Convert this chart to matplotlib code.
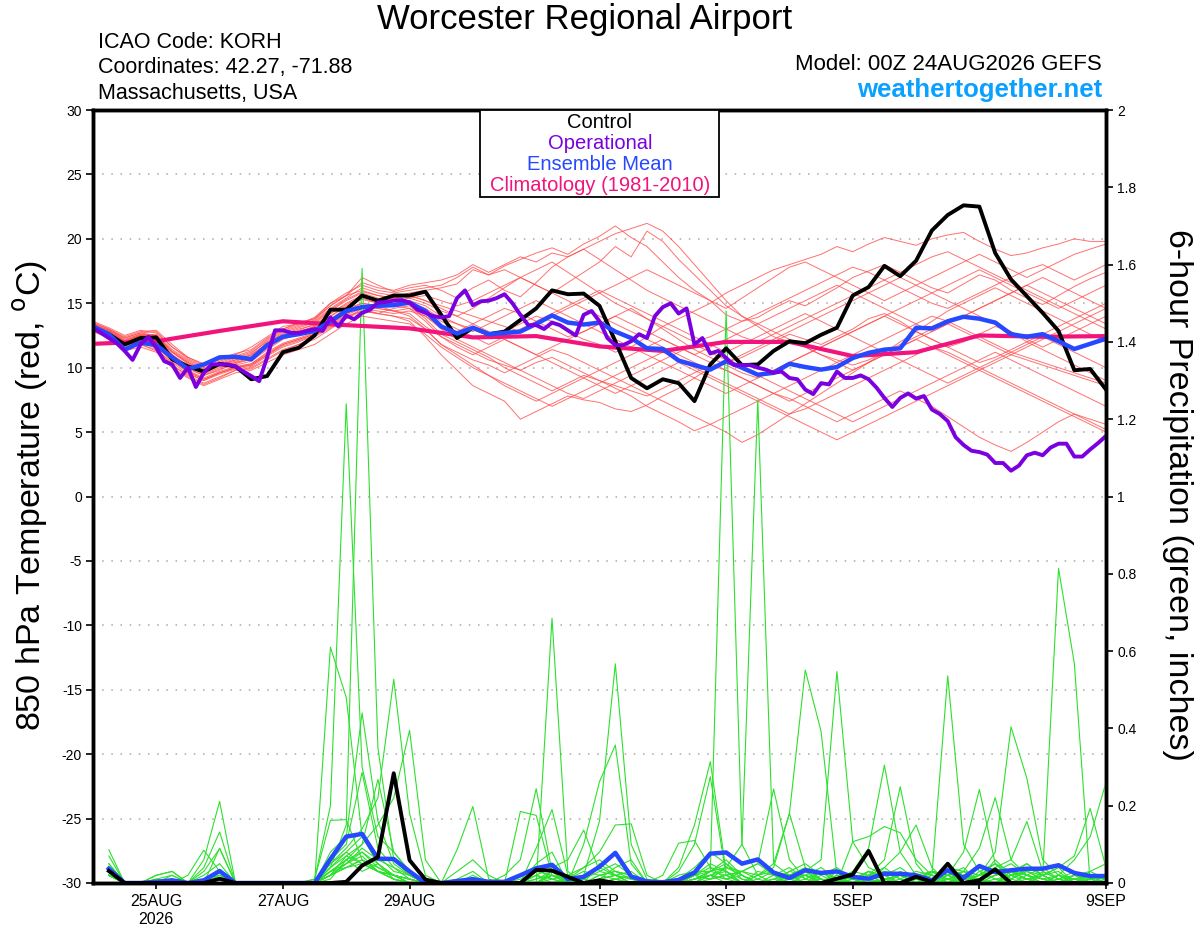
import numpy as np
import matplotlib
matplotlib.use('Agg')
import matplotlib.pyplot as plt
from matplotlib.patches import Rectangle

plt.rcParams['font.family'] = ['Liberation Sans', 'DejaVu Sans']

# ----------------------------------------------------------------- data -----
base = np.datetime64('2026-08-24T00:00')

# 850 hPa temperature, 6-hourly from 00Z 24AUG
control_temp = [13.0, 12.6, 11.8, 12.3, 12.35, 10.65, 10.1, 9.7, 10.3, 10.1, 9.1, 9.35, 11.2, 11.55, 12.5, 14.5,
                14.5, 15.6, 15.2, 15.6, 15.6, 15.9, 14.1, 12.3, 13.1, 12.6, 12.8, 13.7, 14.6, 16.0, 15.7, 15.75,
                14.8, 12.05, 9.2, 8.4, 9.1, 8.8, 7.4, 10.25, 11.5, 10.2, 10.25, 11.3, 12.05, 11.9, 12.55, 13.1,
                15.6, 16.25, 17.9, 17.1, 18.3, 20.65, 21.85, 22.6, 22.5, 18.9, 16.85, 15.55, 14.25, 12.85, 9.8, 9.9,
                8.3]
mean_temp = [13.2, 12.6, 11.4, 11.95, 11.75, 10.8, 9.9, 10.25, 10.8, 10.85, 10.65, 11.75, 12.4, 12.6, 12.85, 13.6,
             14.4, 14.7, 14.8, 14.85, 15.05, 14.4, 13.2, 12.65, 13.1, 12.6, 12.7, 12.8, 13.4, 14.05, 13.5, 13.35,
             13.5, 12.8, 12.3, 11.5, 11.45, 10.55, 10.2, 9.85, 10.5, 10.0, 9.45, 9.6, 10.3, 10.05, 9.85, 10.05,
             10.75, 11.15, 11.4, 11.5, 13.1, 13.05, 13.6, 13.95, 13.8, 13.5, 12.6, 12.4, 12.6, 12.05, 11.45, 11.85,
             12.25]
# operational run, 3-hourly
oper_temp = [13.1, 12.7, 12.3, 11.9, 11.3, 10.6, 11.8, 12.4, 11.55, 10.5, 10.25, 9.2, 10.0, 8.5, 9.6, 10.25,
             10.25, 10.25, 10.1, 9.7, 9.35, 8.95, 10.8, 12.9, 12.9, 12.7, 12.7, 12.85, 13.0, 12.85, 13.9, 13.2,
             14.05, 13.75, 14.25, 14.5, 15.05, 15.1, 15.2, 15.25, 15.05, 14.5, 14.25, 14.0, 13.9, 14.0, 15.4, 16.0,
             14.85, 15.15, 15.2, 15.4, 15.7, 15.0, 14.1, 13.3, 13.3, 13.0, 13.5, 13.3, 12.9, 12.5, 14.1, 14.4,
             13.6, 12.3, 11.75, 11.75, 12.05, 12.6, 12.3, 14.0, 14.7, 15.0, 14.2, 14.6, 11.8, 12.3, 11.1, 11.3,
             10.75, 10.2, 10.2, 10.2, 10.0, 9.85, 9.6, 9.7, 9.2, 9.1, 8.3, 7.95, 8.8, 8.7, 9.7, 9.2,
             9.2, 9.4, 9.1, 8.45, 7.65, 6.95, 7.65, 8.0, 7.6, 7.8, 6.75, 6.4, 5.85, 4.6, 4.0, 3.55,
             3.45, 3.25, 2.6, 2.6, 2.0, 2.4, 3.2, 3.4, 3.2, 3.8, 4.1, 4.1, 3.1, 3.1, 3.65, 4.15,
             4.7]
# climatology, daily
clim_temp = [11.85, 12.05, 12.85, 13.6, 13.3, 13.05, 12.35, 12.45, 11.65, 11.3, 12.0, 12.0, 10.9, 11.2, 12.5,
             12.4, 12.45]

members_temp = [
    [13.4, 12.9, 12.2, 12.6, 12.4, 11.0, 10.2, 9.6, 10.1, 10.4, 10.8, 11.9, 12.6, 13.0, 13.3, 14.2, 15.0, 15.6,
     15.3, 15.5, 15.8, 16.0, 16.2, 16.5, 17.6, 17.2, 17.9, 18.4, 18.9, 19.3, 18.8, 19.6, 20.2, 21.0, 20.1, 19.4,
     18.2, 17.0, 16.0, 15.2, 14.1, 13.6, 13.9, 14.6, 15.2, 14.8, 15.5, 16.2, 17.0, 17.5, 18.0, 17.4, 16.8, 16.2,
     15.8, 16.5, 17.2, 16.8, 16.0, 15.4, 14.9, 15.6, 16.3, 16.9, 17.4],
    [13.0, 12.5, 11.6, 12.0, 11.5, 10.2, 9.3, 8.7, 9.2, 9.8, 9.9, 10.6, 11.3, 11.8, 12.4, 13.1, 13.8, 14.6,
     14.2, 14.0, 13.6, 12.4, 11.0, 9.8, 8.6, 8.0, 7.4, 6.0, 6.6, 7.2, 7.8, 7.5, 7.3, 6.8, 6.6, 7.1,
     7.8, 8.4, 9.2, 10.0, 10.4, 10.8, 11.4, 12.0, 12.6, 12.2, 11.8, 12.4, 13.0, 13.8, 14.2, 13.6, 12.8, 12.2,
     11.6, 12.0, 12.6, 13.2, 12.8, 12.0, 11.4, 10.8, 10.2, 9.6, 9.0],
    [13.5, 13.0, 12.4, 12.8, 12.9, 11.8, 10.8, 10.2, 10.6, 11.0, 11.6, 12.4, 13.2, 13.4, 13.9, 15.0, 15.6, 17.0,
     16.4, 15.9, 16.2, 16.4, 16.0, 15.4, 16.2, 16.8, 16.0, 15.5, 16.6, 17.8, 18.6, 19.2, 19.8, 20.4, 20.8, 21.2,
     20.6, 19.4, 18.0, 16.6, 15.2, 14.0, 13.2, 12.4, 12.0, 11.6, 11.0, 10.6, 10.2, 10.6, 11.2, 11.8, 12.4, 13.0,
     13.4, 12.8, 12.2, 11.6, 11.0, 10.6, 10.2, 9.8, 9.4, 9.0, 8.6],
    [13.2, 12.7, 11.9, 12.4, 12.2, 10.8, 9.9, 9.4, 9.9, 10.2, 10.5, 11.4, 12.2, 12.6, 13.0, 13.8, 14.6, 15.0,
     14.8, 15.2, 15.0, 14.6, 13.8, 13.4, 13.0, 12.6, 12.8, 13.4, 14.0, 13.6, 12.8, 12.2, 11.8, 11.2, 11.6, 12.4,
     13.2, 13.8, 14.4, 15.0, 15.8, 16.4, 17.0, 17.6, 18.0, 18.4, 18.8, 19.4, 19.0, 19.6, 20.1, 19.8, 19.5, 20.0,
     20.3, 20.5, 19.8, 19.2, 18.7, 18.9, 19.3, 19.6, 20.0, 19.8, 19.8],
    [12.9, 12.4, 11.4, 11.8, 11.4, 10.4, 9.5, 9.0, 9.6, 10.0, 10.2, 11.0, 11.8, 12.2, 12.6, 13.4, 14.2, 14.8,
     14.6, 14.4, 14.2, 13.2, 12.4, 11.8, 11.2, 10.6, 10.2, 9.8, 10.4, 10.8, 10.2, 9.6, 9.0, 8.6, 8.2, 7.8,
     8.4, 9.0, 9.6, 10.2, 9.8, 9.2, 8.6, 8.0, 7.6, 7.0, 6.4, 5.8, 6.4, 7.0, 7.6, 8.2, 7.6, 7.0,
     6.2, 5.4, 4.6, 4.0, 3.5, 4.2, 5.0, 5.8, 6.4, 6.0, 5.6],
    [13.3, 12.8, 12.0, 12.5, 12.6, 11.4, 10.6, 10.0, 10.4, 10.8, 11.2, 12.0, 12.8, 13.2, 13.6, 14.6, 15.4, 16.2,
     15.8, 15.6, 15.4, 15.0, 14.4, 14.0, 14.6, 15.4, 16.2, 17.0, 17.6, 18.2, 17.4, 16.6, 15.8, 15.0, 14.4, 13.8,
     13.2, 12.6, 12.0, 12.4, 13.0, 13.6, 14.2, 14.8, 15.4, 16.0, 16.6, 17.2, 17.8, 17.4, 16.8, 16.2, 15.6, 15.0,
     14.6, 15.2, 15.8, 16.4, 17.0, 17.6, 18.0, 17.4, 16.8, 17.4, 18.0],
    [13.1, 12.6, 11.8, 12.2, 11.9, 10.6, 9.6, 9.0, 9.5, 9.9, 10.1, 10.9, 11.6, 12.0, 12.5, 13.2, 14.0, 14.4,
     14.2, 14.6, 14.8, 13.8, 12.6, 12.0, 11.4, 10.8, 10.0, 9.4, 8.8, 8.2, 8.8, 9.4, 9.0, 8.4, 7.8, 7.0,
     6.4, 5.8, 5.1, 5.6, 6.2, 6.8, 7.4, 8.0, 8.6, 9.2, 9.8, 10.4, 11.0, 11.6, 12.2, 12.8, 13.4, 14.0,
     13.6, 13.0, 12.4, 11.8, 11.2, 10.8, 10.4, 10.0, 9.6, 9.2, 8.8],
    [13.0, 12.6, 11.9, 12.3, 12.0, 11.0, 10.0, 9.4, 9.8, 10.4, 10.6, 11.6, 12.4, 12.8, 13.2, 14.0, 14.8, 15.4,
     15.0, 14.8, 14.6, 14.0, 13.2, 12.8, 13.4, 14.0, 14.6, 14.2, 13.6, 13.0, 12.4, 12.8, 13.4, 14.0, 14.6, 13.8,
     13.0, 12.2, 11.4, 10.8, 10.2, 9.6, 9.2, 9.8, 10.4, 11.0, 11.6, 12.2, 12.8, 13.4, 14.0, 13.4, 12.8, 12.2,
     11.6, 11.0, 10.4, 10.8, 11.4, 12.0, 12.6, 13.2, 13.8, 14.4, 15.0],
    [13.6, 13.1, 12.5, 12.9, 12.7, 11.6, 10.8, 10.3, 10.7, 11.1, 11.4, 12.3, 13.0, 13.5, 13.8, 14.8, 15.6, 16.6,
     16.2, 16.0, 16.4, 16.6, 16.8, 17.2, 18.0, 17.4, 18.0, 18.6, 18.2, 18.9, 18.6, 19.2, 18.4, 17.6, 16.8, 16.0,
     15.4, 14.8, 14.2, 13.6, 13.0, 12.4, 12.0, 12.6, 13.2, 13.8, 14.4, 15.0, 15.6, 16.2, 16.8, 17.4, 18.0, 18.6,
     19.0, 18.4, 17.8, 17.2, 16.6, 16.0, 15.4, 14.8, 14.2, 13.6, 13.0],
    [12.8, 12.3, 11.3, 11.6, 11.2, 10.0, 9.2, 8.6, 9.1, 9.6, 9.8, 10.4, 11.0, 11.4, 11.8, 12.6, 13.4, 14.0,
     13.8, 13.6, 13.4, 12.6, 11.6, 10.8, 10.0, 9.4, 8.8, 8.2, 7.6, 7.0, 7.6, 8.2, 8.8, 9.4, 10.0, 10.6,
     11.2, 10.6, 10.0, 9.4, 8.8, 8.2, 7.6, 7.0, 6.4, 6.8, 7.4, 8.0, 8.6, 9.2, 9.8, 10.4, 11.0, 11.6,
     11.2, 10.6, 10.0, 9.4, 8.8, 8.2, 7.6, 7.0, 6.4, 5.8, 5.2],
    [13.2, 12.8, 12.1, 12.5, 12.3, 11.2, 10.4, 9.8, 10.2, 10.6, 11.0, 11.8, 12.5, 12.9, 13.4, 14.4, 15.2, 15.8,
     15.4, 15.2, 15.4, 15.6, 15.2, 14.8, 15.2, 15.8, 16.4, 17.0, 16.4, 15.8, 16.6, 17.4, 18.2, 19.4, 18.6, 20.6,
     19.8, 18.4, 17.2, 16.0, 14.8, 14.0, 13.4, 12.8, 12.2, 11.6, 11.0, 10.4, 9.8, 10.4, 11.0, 11.6, 12.2, 12.8,
     13.4, 14.0, 14.6, 15.2, 15.8, 16.4, 17.0, 16.4, 15.8, 15.2, 14.6],
    [13.0, 12.5, 11.7, 12.1, 11.8, 10.7, 9.8, 9.2, 9.7, 10.1, 10.3, 11.2, 11.9, 12.3, 12.7, 13.6, 14.4, 15.0,
     14.8, 14.4, 14.0, 13.0, 11.8, 11.2, 10.6, 10.2, 9.6, 10.2, 10.8, 11.4, 11.0, 10.4, 9.8, 9.2, 8.6, 8.0,
     7.4, 6.8, 6.2, 5.6, 5.0, 4.2, 4.8, 5.6, 6.4, 7.2, 8.0, 8.8, 9.6, 10.4, 11.2, 12.0, 12.8, 13.6,
     14.4, 15.0, 15.6, 16.2, 15.6, 15.0, 14.4, 13.8, 13.2, 12.6, 12.0],
    [13.3, 12.9, 12.3, 12.7, 12.5, 11.3, 10.5, 9.9, 10.3, 10.7, 11.1, 12.1, 12.9, 13.3, 13.7, 14.8, 15.6, 16.0,
     15.6, 15.4, 15.2, 14.4, 13.6, 13.0, 12.4, 11.8, 12.4, 13.0, 13.6, 14.2, 14.8, 15.4, 16.0, 15.4, 14.8, 14.2,
     13.6, 13.0, 12.4, 11.8, 11.2, 11.8, 12.4, 13.0, 13.6, 14.2, 13.6, 13.0, 12.4, 11.8, 11.2, 10.6, 10.0, 9.4,
     8.8, 9.4, 10.0, 10.6, 11.2, 11.8, 12.4, 11.8, 11.2, 10.6, 10.0],
    [13.4, 12.9, 12.1, 12.6, 12.5, 11.2, 10.3, 9.7, 10.2, 10.5, 10.9, 11.7, 12.5, 12.8, 13.2, 14.2, 14.9, 15.5,
     15.2, 15.4, 15.6, 15.2, 14.8, 14.4, 14.0, 13.6, 13.2, 12.8, 13.4, 14.0, 14.6, 15.2, 15.8, 16.4, 17.0, 17.6,
     17.0, 16.4, 15.8, 15.2, 14.6, 15.4, 16.2, 17.0, 17.8, 18.2, 17.6, 17.0, 16.4, 15.8, 15.2, 15.8, 16.4, 17.0,
     17.6, 18.2, 18.8, 18.2, 17.6, 17.0, 17.6, 18.2, 18.8, 19.2, 19.6],
    [12.9, 12.4, 11.5, 11.9, 11.6, 10.5, 9.7, 9.1, 9.6, 10.0, 10.2, 11.0, 11.7, 12.1, 12.5, 13.3, 14.1, 14.6,
     14.4, 14.2, 14.4, 14.0, 13.0, 12.2, 11.6, 11.0, 10.4, 9.8, 9.2, 8.6, 8.0, 7.6, 8.2, 8.8, 9.4, 10.0,
     10.6, 11.2, 11.8, 11.2, 10.6, 10.0, 9.4, 8.8, 8.2, 7.6, 7.0, 6.4, 5.8, 6.4, 7.0, 7.6, 8.2, 8.8,
     9.4, 10.0, 10.6, 11.2, 10.6, 10.0, 9.4, 8.8, 8.2, 7.6, 7.0],
    [13.5, 13.0, 12.3, 12.7, 12.8, 11.6, 10.7, 10.1, 10.5, 10.9, 11.3, 12.2, 13.0, 13.4, 13.8, 15.0, 15.8, 16.4,
     16.0, 15.8, 16.0, 16.2, 16.4, 17.0, 17.8, 17.2, 17.6, 17.0, 16.4, 15.8, 15.2, 14.6, 14.0, 13.4, 12.8, 12.2,
     11.6, 11.0, 10.4, 9.8, 10.4, 11.0, 11.6, 12.2, 12.8, 13.4, 14.0, 14.6, 15.2, 15.8, 16.4, 17.0, 16.4, 15.8,
     15.2, 14.6, 14.0, 13.4, 12.8, 12.2, 11.6, 12.2, 12.8, 13.4, 14.0],
    [13.1, 12.6, 11.8, 12.2, 11.7, 10.6, 9.7, 9.1, 9.6, 10.0, 10.3, 11.1, 11.8, 12.2, 12.6, 13.5, 14.2, 14.8,
     14.6, 14.4, 14.6, 13.6, 12.4, 11.6, 11.0, 11.6, 12.2, 11.6, 11.0, 10.4, 9.8, 9.2, 8.6, 8.0, 8.6, 9.2,
     9.8, 10.4, 9.8, 9.2, 8.6, 8.0, 7.4, 6.8, 6.2, 5.6, 5.0, 4.4, 5.0, 5.6, 6.2, 6.8, 7.4, 8.0,
     8.6, 9.2, 9.8, 10.4, 11.0, 11.6, 12.2, 12.8, 13.4, 14.0, 14.6],
    [13.2, 12.7, 12.0, 12.4, 12.2, 11.0, 10.1, 9.5, 10.0, 10.3, 10.7, 11.5, 12.3, 12.7, 13.1, 14.0, 14.7, 15.3,
     15.0, 15.0, 15.2, 14.8, 14.0, 13.4, 12.8, 13.4, 14.0, 14.6, 15.2, 14.6, 14.0, 13.4, 12.8, 12.2, 11.6, 11.0,
     10.4, 9.8, 9.2, 8.6, 8.0, 8.6, 9.2, 9.8, 10.4, 11.0, 11.6, 12.2, 12.8, 13.4, 14.0, 14.6, 15.2, 15.8,
     16.4, 17.0, 17.6, 17.0, 16.4, 15.8, 15.2, 14.6, 15.2, 15.8, 16.4],
    [12.9, 12.3, 11.4, 11.8, 11.3, 10.2, 9.4, 8.8, 9.3, 9.8, 10.0, 10.7, 11.4, 11.8, 12.2, 13.0, 13.8, 14.4,
     14.2, 14.0, 13.8, 13.0, 11.8, 11.0, 10.2, 9.4, 8.6, 8.0, 7.4, 8.0, 8.6, 9.2, 9.8, 10.4, 11.0, 11.6,
     12.2, 11.6, 11.0, 10.4, 9.8, 9.2, 8.6, 8.0, 7.4, 8.0, 8.6, 9.2, 9.8, 10.4, 11.0, 11.6, 12.2, 11.6,
     11.0, 10.4, 9.8, 9.2, 8.6, 8.0, 7.4, 6.8, 6.2, 5.6, 5.0],
    [13.3, 12.8, 12.1, 12.5, 12.4, 11.2, 10.4, 9.8, 10.2, 10.6, 11.0, 11.9, 12.7, 13.1, 13.5, 14.5, 15.3, 15.9,
     15.6, 15.4, 15.6, 15.2, 14.6, 14.0, 13.4, 12.8, 12.2, 11.6, 11.0, 11.6, 12.2, 12.8, 13.4, 14.0, 13.4, 12.8,
     12.2, 11.6, 11.0, 11.6, 12.2, 12.8, 13.4, 14.0, 14.6, 15.2, 15.8, 16.4, 15.8, 15.2, 14.6, 14.0, 13.4, 12.8,
     13.4, 14.0, 14.6, 15.2, 15.8, 16.4, 15.8, 15.2, 14.6, 14.0, 13.4],
]

# 6-hour precipitation (inches), periods ending 06Z 24AUG ... 00Z 9SEP
control_precip = [0.031, 0, 0, 0, 0, 0, 0, 0.011, 0, 0, 0, 0, 0, 0, 0, 0.003,
                  0.045, 0.067, 0.284, 0.059, 0.009, 0, 0, 0, 0, 0, 0, 0.034, 0.032, 0.016, 0, 0.007,
                  0, 0, 0, 0, 0, 0, 0, 0, 0, 0, 0, 0, 0, 0, 0.011, 0.022,
                  0.083, 0, 0, 0.016, 0.003, 0.05, 0, 0.007, 0.035, 0, 0, 0, 0, 0, 0, 0]
mean_precip = [0.037, 0, 0, 0.003, 0.007, 0, 0.007, 0.031, 0, 0, 0, 0, 0, 0, 0.062, 0.12,
               0.127, 0.063, 0.062, 0.03, 0, 0, 0.005, 0.01, 0.003, 0.003, 0.02, 0.038, 0.047, 0.01, 0.016, 0.042,
               0.078, 0.017, 0.004, 0.002, 0.008, 0.027, 0.076, 0.079, 0.05, 0.061, 0.027, 0.013, 0.033, 0.026,
               0.03, 0.016,
               0.011, 0.024, 0.024, 0.02, 0.007, 0.033, 0.013, 0.044, 0.028, 0.033, 0.037, 0.037, 0.046, 0.026,
               0.018, 0.018]

members_precip = [
    [0.086, 0, 0, 0.01, 0.02, 0, 0, 0.03, 0, 0, 0, 0, 0, 0, 0.61, 0.48,
     0.12, 0.05, 0.02, 0, 0, 0, 0, 0, 0, 0, 0.02, 0.04, 0.01, 0, 0, 0.02,
     0.03, 0.01, 0, 0, 0.02, 0.03, 0.03, 1.48, 0.10, 0.02, 0, 0.01, 0.02, 0, 0.01, 0.03,
     0.02, 0, 0, 0.01, 0, 0.02, 0.03, 0, 0, 0.01, 0.04, 0.02, 0, 0, 0.01, 0],
    [0.07, 0, 0, 0, 0.01, 0, 0.02, 0.05, 0, 0, 0, 0, 0, 0, 0.04, 0.15,
     1.59, 0.35, 0.06, 0.02, 0, 0, 0, 0, 0, 0, 0, 0.03, 0.05, 0, 0.02, 0.04,
     0.02, 0, 0, 0, 0, 0.02, 0.05, 0.03, 0, 0, 0.02, 0.04, 0.01, 0, 0, 0.03,
     0.09, 0.305, 0.08, 0.02, 0, 0.03, 0, 0.01, 0.06, 0.02, 0, 0.03, 0.01, 0, 0.02, 0.01],
    [0.05, 0, 0, 0.02, 0.03, 0, 0, 0.09, 0, 0, 0, 0, 0, 0.01, 0.20, 1.24,
     0.30, 0.12, 0.08, 0.03, 0, 0, 0.01, 0.03, 0, 0, 0, 0, 0.02, 0.01, 0.04, 0.06,
     0.03, 0.02, 0, 0, 0.01, 0.04, 0.08, 0.05, 0.01, 0, 0, 0.03, 0.05, 0.02, 0, 0,
     0.02, 0.06, 0.249, 0.05, 0, 0.02, 0.04, 0, 0, 0.03, 0.02, 0.01, 0, 0, 0.03, 0.05],
    [0.04, 0, 0, 0, 0.01, 0, 0, 0.02, 0, 0, 0, 0, 0, 0, 0.05, 0.09,
     0.14, 0.22, 0.527, 0.18, 0.02, 0, 0, 0, 0, 0, 0, 0.01, 0.03, 0, 0.01, 0.03,
     0.05, 0.02, 0, 0, 0, 0.01, 0.03, 0.06, 0.02, 0, 0, 0.02, 0.03, 0, 0.02, 0.01,
     0, 0.04, 0.08, 0.15, 0.04, 0, 0.01, 0.02, 0.05, 0.03, 0.02, 0, 0.01, 0.03, 0, 0.02],
    [0.03, 0, 0, 0, 0, 0, 0, 0, 0, 0, 0, 0, 0, 0, 0.03, 0.06,
     0.10, 0.15, 0.22, 0.395, 0.06, 0, 0, 0, 0, 0, 0, 0.02, 0, 0.01, 0.03, 0.02,
     0.01, 0, 0, 0, 0, 0.02, 0.04, 0.03, 0, 0, 0.01, 0.02, 0.04, 0.01, 0, 0.02,
     0.01, 0, 0.03, 0.01, 0.02, 0.536, 0.1, 0.03, 0.01, 0, 0.02, 0.04, 0.01, 0, 0, 0.02],
    [0.02, 0, 0, 0, 0, 0, 0, 0.03, 0, 0, 0, 0, 0, 0, 0.08, 0.12,
     0.44, 0.16, 0.05, 0.02, 0, 0, 0, 0.01, 0, 0, 0, 0, 0.02, 0, 0, 0.05,
     0.02, 0.03, 0, 0, 0, 0.02, 0.01, 0.04, 0.10, 1.25, 0.05, 0.02, 0, 0.03, 0.01, 0,
     0.03, 0.02, 0, 0.01, 0.03, 0, 0.02, 0.01, 0, 0.02, 0.05, 0.02, 0.04, 0, 0.01, 0],
    [0.03, 0, 0, 0, 0, 0, 0.01, 0.02, 0, 0, 0, 0, 0, 0, 0.06, 0.1,
     0.286, 0.09, 0.04, 0.01, 0, 0, 0, 0, 0, 0, 0, 0.01, 0.02, 0, 0, 0.01,
     0.04, 0.06, 0, 0, 0, 0, 0.02, 0.01, 0.03, 0.05, 0.02, 0, 0.01, 0.03, 0, 0.01,
     0.02, 0.04, 0.01, 0, 0.03, 0.02, 0.08, 0.242, 0.05, 0.01, 0, 0.02, 0.03, 0, 0.01, 0.02],
    [0.02, 0, 0, 0, 0, 0, 0, 0, 0, 0, 0, 0, 0, 0, 0.04, 0.07,
     0.1, 0.268, 0.08, 0.03, 0, 0, 0, 0, 0, 0, 0, 0, 0.01, 0.02, 0, 0,
     0.01, 0, 0, 0, 0, 0.01, 0.02, 0, 0, 0.03, 0.02, 0.01, 0, 0.02, 0.04, 0.01,
     0.03, 0.01, 0, 0.02, 0.01, 0.04, 0.03, 0.09, 0.221, 0.06, 0.02, 0.01, 0, 0.02, 0.03, 0.01],
    [0.03, 0, 0, 0, 0, 0, 0, 0, 0, 0, 0, 0, 0, 0.01, 0.162, 0.164,
     0.06, 0.04, 0.02, 0.01, 0, 0, 0, 0, 0, 0, 0, 0, 0, 0, 0.01, 0,
     0, 0, 0, 0, 0, 0, 0, 0, 0, 0.02, 0.03, 0.01, 0, 0, 0.02, 0,
     0.01, 0.02, 0.04, 0.01, 0, 0, 0.03, 0.02, 0.08, 0.404, 0.271, 0.06, 0.02, 0, 0.01, 0],
    [0.04, 0, 0, 0.02, 0.03, 0, 0.06, 0.211, 0, 0, 0, 0, 0, 0, 0.02, 0.05,
     0.07, 0.03, 0.01, 0, 0, 0, 0, 0, 0, 0, 0, 0, 0, 0, 0, 0,
     0, 0, 0, 0.02, 0.103, 0.11, 0.04, 0.01, 0, 0, 0, 0, 0, 0.01, 0, 0,
     0, 0.01, 0.02, 0, 0, 0.01, 0.02, 0, 0, 0.03, 0.05, 0.02, 0.814, 0.568, 0, 0.02],
    [0.02, 0, 0, 0, 0.02, 0, 0.04, 0.132, 0, 0, 0, 0, 0, 0, 0.03, 0.06,
     0.08, 0.05, 0.02, 0, 0, 0, 0.03, 0.06, 0.02, 0, 0.01, 0.03, 0.02, 0, 0.1, 0.262,
     0.357, 0.05, 0, 0, 0, 0.01, 0.03, 0.02, 0, 0.01, 0.03, 0.02, 0, 0.01, 0, 0.02,
     0.01, 0.03, 0.02, 0, 0.01, 0, 0.02, 0.04, 0.03, 0, 0.01, 0.02, 0.04, 0.07, 0.193, 0.04],
    [0.05, 0, 0, 0.01, 0, 0, 0.03, 0.089, 0, 0, 0, 0, 0, 0, 0.02, 0.04,
     0.06, 0.03, 0.01, 0, 0, 0, 0, 0.02, 0, 0, 0, 0.05, 0.08, 0, 0.02, 0.16,
     0.567, 0.1, 0.01, 0, 0, 0, 0.02, 0.01, 0.02, 0, 0.01, 0, 0.02, 0.04, 0.01, 0,
     0.02, 0, 0.01, 0.03, 0.02, 0, 0.01, 0, 0.02, 0.03, 0.01, 0, 0.02, 0.01, 0, 0.01],
    [0.03, 0, 0, 0, 0, 0.02, 0.085, 0.03, 0, 0, 0, 0, 0, 0, 0.05, 0.08,
     0.05, 0.03, 0.02, 0.01, 0, 0, 0, 0, 0, 0, 0, 0, 0.03, 0.02, 0.04, 0.08,
     0.15, 0.153, 0.02, 0, 0, 0, 0.03, 0.05, 0.02, 0, 0, 0.01, 0.02, 0, 0.03, 0.02,
     0, 0.01, 0.02, 0, 0.01, 0.02, 0, 0.03, 0.05, 0.02, 0.01, 0, 0.02, 0.06, 0.12, 0.26],
    [0.02, 0, 0, 0, 0, 0, 0, 0, 0, 0, 0, 0, 0, 0, 0.03, 0.05,
     0.09, 0.06, 0.04, 0.02, 0, 0, 0.086, 0.198, 0.01, 0, 0, 0.02, 0.01, 0, 0, 0.01,
     0.02, 0, 0, 0, 0.04, 0.15, 0.314, 0.03, 0.01, 0, 0, 0.02, 0.03, 0.01, 0, 0,
     0.02, 0.03, 0.01, 0, 0.02, 0.01, 0, 0.02, 0.03, 0.05, 0.02, 0, 0.01, 0.02, 0, 0.01],
    [0.03, 0, 0, 0, 0, 0, 0, 0, 0, 0, 0, 0, 0, 0, 0.02, 0.07,
     0.05, 0.03, 0.02, 0, 0, 0, 0, 0, 0, 0, 0.185, 0.175, 0.02, 0, 0, 0,
     0.01, 0.02, 0, 0, 0.03, 0.1, 0.275, 0.02, 0, 0, 0, 0.01, 0.02, 0, 0.01, 0.02,
     0.01, 0.02, 0, 0.01, 0.03, 0.01, 0, 0.02, 0.04, 0.01, 0.03, 0.02, 0, 0.01, 0.02, 0.01],
    [0.02, 0, 0, 0, 0, 0, 0, 0, 0, 0, 0, 0, 0, 0, 0.01, 0.06,
     0.03, 0.05, 0.01, 0, 0, 0, 0, 0, 0, 0.02, 0.06, 0.244, 0.03, 0, 0, 0.01,
     0.02, 0.01, 0, 0, 0, 0.02, 0.01, 0.02, 0.03, 0.05, 0.243, 0.06, 0.01, 0.03, 0, 0.01,
     0.03, 0.01, 0.02, 0, 0.01, 0.03, 0.02, 0.01, 0, 0.02, 0.03, 0.01, 0.02, 0, 0.01, 0],
    [0.02, 0, 0, 0, 0, 0, 0, 0, 0, 0, 0, 0, 0, 0, 0.02, 0.05,
     0.08, 0.04, 0.02, 0.01, 0, 0, 0, 0, 0, 0, 0, 0, 0.685, 0.03, 0, 0.01,
     0.02, 0.01, 0, 0, 0, 0.01, 0.02, 0.04, 0.03, 0.02, 0.05, 0.18, 0.04, 0.01, 0, 0.02,
     0.01, 0, 0.02, 0.01, 0.03, 0.02, 0, 0.01, 0.02, 0.03, 0.01, 0.02, 0, 0.01, 0.02, 0],
    [0.03, 0, 0, 0, 0, 0, 0, 0, 0, 0, 0, 0, 0, 0, 0.04, 0.08,
     0.12, 0.07, 0.03, 0.02, 0, 0, 0, 0, 0, 0, 0, 0.09, 0.19, 0.02, 0, 0,
     0.01, 0, 0, 0, 0, 0.01, 0.02, 0.03, 0, 0.02, 0.04, 0.18, 0.551, 0.392, 0.02, 0.01,
     0.02, 0.01, 0, 0.02, 0.03, 0.01, 0.02, 0, 0.01, 0.02, 0.03, 0.01, 0, 0.02, 0.01, 0.02],
    [0.02, 0, 0, 0, 0, 0, 0, 0, 0, 0, 0, 0, 0, 0, 0.03, 0.04,
     0.06, 0.03, 0.01, 0, 0, 0, 0, 0, 0, 0, 0, 0.02, 0.04, 0.06, 0.137, 0.03,
     0.02, 0, 0, 0, 0, 0, 0.01, 0.02, 0.03, 0.01, 0, 0.02, 0.03, 0.06, 0.547, 0.107,
     0.04, 0.02, 0, 0.01, 0.03, 0.02, 0.01, 0, 0.02, 0.03, 0.01, 0, 0.02, 0.01, 0, 0.02],
    [0.02, 0, 0, 0, 0, 0, 0, 0, 0, 0, 0, 0, 0, 0, 0.02, 0.04,
     0.05, 0.03, 0.02, 0.01, 0, 0, 0, 0, 0, 0, 0, 0, 0.02, 0.01, 0, 0.02,
     0.03, 0.02, 0, 0, 0, 0.02, 0.03, 0.04, 0.02, 0, 0.01, 0.03, 0.02, 0.01, 0, 0.107,
     0.12, 0.146, 0.13, 0.06, 0.02, 0.01, 0.03, 0.02, 0.04, 0.06, 0.159, 0.03, 0.01, 0, 0.02, 0.01],
]

xtick_days = ['2026-08-25', '2026-08-27', '2026-08-29', '2026-09-01', '2026-09-03', '2026-09-05',
              '2026-09-07', '2026-09-09']
xtick_labels = ['25AUG\n2026', '27AUG', '29AUG', '1SEP', '3SEP', '5SEP', '7SEP', '9SEP']

# ----------------------------------------------------------------- times ----
def six_hourly(n, start=0):
    return base + (np.arange(n) + start) * np.timedelta64(6, 'h')

t_oper = base + np.arange(len(oper_temp)) * np.timedelta64(3, 'h')
t_clim = base + np.arange(len(clim_temp)) * np.timedelta64(24, 'h')

# ----------------------------------------------------------------- plot -----
fig = plt.figure(figsize=(12, 9.27), dpi=100)
ax = fig.add_axes([93 / 1200, 1 - 883 / 927, 1013 / 1200, 773 / 927])
ax2 = ax.twinx()

for m in members_temp:
    ax.plot(six_hourly(len(m)), m, color='#ff4d4d', lw=0.7, alpha=0.8)

for m in members_precip:
    ax2.plot(six_hourly(len(m), 1), m, color='#2ee02e', lw=0.8)

# bold temperature lines go on top of the green ones, but use the temperature scale
tr = ax.transData
ax2.plot(t_clim, clim_temp, color='#f0147c', lw=3.0, transform=tr)
ax2.plot(six_hourly(len(control_temp)), control_temp, color='black', lw=2.8, transform=tr)
ax2.plot(six_hourly(len(mean_temp)), mean_temp, color='#2648ff', lw=3.2, transform=tr)
ax2.plot(t_oper, oper_temp, color='#7a00e0', lw=2.8, transform=tr)

ax2.plot(six_hourly(len(mean_precip), 1), mean_precip, color='#2648ff', lw=3.2)
ax2.plot(six_hourly(len(control_precip), 1), control_precip, color='black', lw=2.8)

ax.set_xlim(base, base + np.timedelta64(16, 'D'))
ax.set_ylim(-30, 30)
ax2.set_ylim(0, 2)

ax.set_yticks(np.arange(-30, 31, 5))
ax.set_yticklabels([str(v) for v in range(-30, 31, 5)])
ax2.set_yticks(np.arange(0, 2.01, 0.2))
ax2.set_yticklabels(['%g' % round(v, 1) for v in np.arange(0, 2.01, 0.2)])
ax.set_xticks([np.datetime64(d + 'T00:00') for d in xtick_days])
ax.set_xticklabels(xtick_labels)

ax.yaxis.grid(True, linestyle=(0, (1, 5)), color='#a8a8a8', lw=1.1)
ax.tick_params(axis='y', labelsize=10, length=5, width=1.2, pad=3)
ax.tick_params(axis='x', labelsize=11.5, length=4, width=1.2, pad=4)
ax2.tick_params(axis='y', labelsize=10, length=5, width=1.2, pad=3)
for a in (ax, ax2):
    for s in a.spines.values():
        s.set_linewidth(2.5)

# ----------------------------------------------------------------- texts ----
fig.text(585 / 1200, 1 - 19 / 927, 'Worcester Regional Airport', ha='center', va='center', fontsize=25)
fig.text(98 / 1200, 1 - 42 / 927, 'ICAO Code: KORH', ha='left', va='center', fontsize=15.5)
fig.text(98 / 1200, 1 - 68 / 927, 'Coordinates: 42.27, -71.88', ha='left', va='center', fontsize=15.5)
fig.text(98 / 1200, 1 - 94 / 927, 'Massachusetts, USA', ha='left', va='center', fontsize=15.5)
fig.text(1102 / 1200, 1 - 65 / 927, 'Model: 00Z 24AUG2026 GEFS', ha='right', va='center', fontsize=16)
fig.text(1102 / 1200, 1 - 90 / 927, 'weathertogether.net', ha='right', va='center', fontsize=18.5,
         fontweight='bold', color='#0aa0ff')

fig.text(31 / 1200, 1 - 495 / 927, '850 hPa Temperature (red, $^\\mathrm{o}$C)', rotation=90,
         ha='center', va='center', fontsize=24.5)
fig.text(1177 / 1200, 1 - 495 / 927, '6-hour Precipitation (green, inches)', rotation=270,
         ha='center', va='center', fontsize=24.5)

# legend box
fig.patches.append(Rectangle((480 / 1200, 1 - 197 / 927), 239 / 1200, 87 / 927, transform=fig.transFigure,
                             facecolor='white', edgecolor='black', lw=1.3, zorder=5))
legend_items = [('Control', 'black'), ('Operational', '#7a00e0'), ('Ensemble Mean', '#2648ff'),
                ('Climatology (1981-2010)', '#f0147c')]
for k, (txt, col) in enumerate(legend_items):
    fig.text(600 / 1200, 1 - (122 + 21.3 * k) / 927, txt, ha='center', va='center', fontsize=14.5,
             color=col, zorder=6)

fig.savefig('out.png', dpi=100)
